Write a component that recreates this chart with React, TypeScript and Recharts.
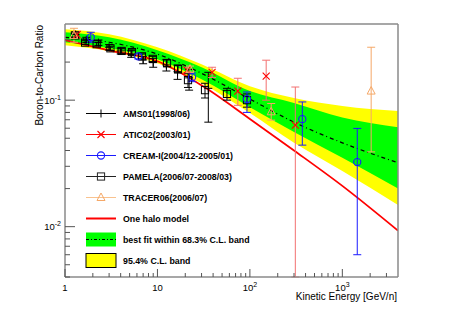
import React from "react";
import { ComposedChart, Area, Line, Scatter, XAxis, YAxis, ErrorBar, ReferenceLine } from "recharts";

// model curves, sampled at these kinetic energies (GeV/n)
const bandEnergy = [1, 3, 10, 30, 100, 300, 1000, 4000];
const yellowHigh = [0.363, 0.332, 0.262, 0.192, 0.129, 0.104, 0.09, 0.082];
const greenHigh = [0.344, 0.314, 0.248, 0.182, 0.118, 0.095, 0.073, 0.061];
const bestFit = [0.314, 0.287, 0.231, 0.163, 0.102, 0.067, 0.046, 0.032];
const greenLow = [0.287, 0.257, 0.211, 0.146, 0.088, 0.056, 0.035, 0.02];
const yellowLow = [0.272, 0.244, 0.196, 0.136, 0.079, 0.046, 0.0275, 0.0148];
const haloModel = [0.298, 0.248, 0.203, 0.131, 0.071, 0.04, 0.021, 0.0093];

// measurements: e = energy, r = B/C, lo / hi = error below / above
const ams01 = [
  { e: 1.3, r: 0.33, lo: 0.015, hi: 0.015 },
  { e: 1.7, r: 0.3, lo: 0.014, hi: 0.014 },
  { e: 2.3, r: 0.285, lo: 0.014, hi: 0.014 },
  { e: 3.0, r: 0.262, lo: 0.013, hi: 0.013 },
  { e: 4.0, r: 0.245, lo: 0.013, hi: 0.013 },
  { e: 5.2, r: 0.232, lo: 0.014, hi: 0.014 },
  { e: 7.0, r: 0.208, lo: 0.014, hi: 0.014 },
  { e: 9.0, r: 0.198, lo: 0.016, hi: 0.016 },
  { e: 12.5, r: 0.19, lo: 0.02, hi: 0.02 },
  { e: 16.5, r: 0.168, lo: 0.022, hi: 0.022 },
  { e: 22, r: 0.15, lo: 0.03, hi: 0.025 },
  { e: 35.5, r: 0.124, lo: 0.057, hi: 0.042 },
];
const atic02 = [
  { e: 1.35, r: 0.33, lo: 0.02, hi: 0.02 },
  { e: 20.9, r: 0.173, lo: 0.008, hi: 0.008 },
  { e: 39, r: 0.166, lo: 0.015, hi: 0.016 },
  { e: 74, r: 0.118, lo: 0.027, hi: 0.031 },
  { e: 150, r: 0.155, lo: 0.055, hi: 0.052 },
  { e: 310, r: 0.0635, lo: 0.0595, hi: 0.0635 },
];
const creamI = [
  { e: 1.9, r: 0.314, lo: 0.027, hi: 0.03 },
  { e: 6.2, r: 0.222, lo: 0.01, hi: 0.01 },
  { e: 23.7, r: 0.152, lo: 0.012, hi: 0.012 },
  { e: 93, r: 0.102, lo: 0.022, hi: 0.014 },
  { e: 369, r: 0.0708, lo: 0.0267, hi: 0.026 },
  { e: 1450, r: 0.0324, lo: 0.0264, hi: 0.0274 },
];
const pamela = [
  { e: 1.28, r: 0.325, lo: 0.01, hi: 0.01 },
  { e: 1.65, r: 0.285, lo: 0.01, hi: 0.01 },
  { e: 2.2, r: 0.277, lo: 0.01, hi: 0.01 },
  { e: 3.1, r: 0.257, lo: 0.01, hi: 0.01 },
  { e: 4.1, r: 0.245, lo: 0.01, hi: 0.01 },
  { e: 5.3, r: 0.24, lo: 0.01, hi: 0.01 },
  { e: 6.8, r: 0.222, lo: 0.01, hi: 0.01 },
  { e: 8.9, r: 0.212, lo: 0.01, hi: 0.01 },
  { e: 12.7, r: 0.196, lo: 0.012, hi: 0.012 },
  { e: 16.7, r: 0.176, lo: 0.012, hi: 0.012 },
  { e: 21.4, r: 0.144, lo: 0.018, hi: 0.018 },
  { e: 32.7, r: 0.12, lo: 0.016, hi: 0.016 },
  { e: 56.5, r: 0.112, lo: 0.012, hi: 0.012 },
  { e: 93, r: 0.1, lo: 0.012, hi: 0.012 },
];
const tracer06 = [
  { e: 1.25, r: 0.325, lo: 0.038, hi: 0.045 },
  { e: 22.5, r: 0.176, lo: 0.01, hi: 0.01 },
  { e: 170, r: 0.0809, lo: 0.0114, hi: 0.0132 },
  { e: 2050, r: 0.118, lo: 0.079, hi: 0.144 },
];

const xTicks = [1, 2, 3, 4, 5, 6, 7, 8, 9, 10, 20, 30, 40, 50, 60, 70, 80, 90, 100, 200, 300, 400, 500, 600, 700, 800, 900, 1000, 2000, 3000];
const yTicks = [0.004, 0.005, 0.006, 0.007, 0.008, 0.009, 0.01, 0.02, 0.03, 0.04, 0.05, 0.06, 0.07, 0.08, 0.09, 0.1, 0.2, 0.3];

const FONT = "'Liberation Sans', Arial, Helvetica, sans-serif";
const AXIS = "#8a8a8a";
const TICK = "#555";
const ATIC_RED = "#ff0000";
const ATIC_BAR = "#f27070";
const CREAM_BLUE = "#1a1aff";
const TRACER_ORANGE = "#f5a868";

const bandData = bandEnergy.map((e, i) => ({
  e,
  yellow: [yellowLow[i], yellowHigh[i]],
  green: [greenLow[i], greenHigh[i]],
  fit: bestFit[i],
  halo: haloModel[i],
}));

const withErr = (rows: { e: number; r: number; lo: number; hi: number }[]) =>
  rows.map((d) => ({ e: d.e, r: d.r, err: [d.lo, d.hi] }));

const isMajor = (v: number) => Math.abs(Math.log10(v) - Math.round(Math.log10(v))) < 1e-6;

function XTick(props: any) {
  const { x, y, payload } = props;
  const v = payload.value;
  const major = isMajor(v);
  const exp = Math.round(Math.log10(v));
  return (
    <g>
      <line x1={x} x2={x} y1={y} y2={y - (major ? 8 : 4)} stroke={TICK} strokeWidth={1} />
      {major && (
        <text x={x} y={y + 13.5} textAnchor="middle" fontSize={9.5} fontFamily={FONT} fill="#000">
          {exp === 0 ? "1" : "10"}
          {exp >= 2 && (
            <tspan dy={-4} fontSize={7}>
              {exp}
            </tspan>
          )}
        </text>
      )}
    </g>
  );
}

function YTick(props: any) {
  const { x, y, payload } = props;
  const v = payload.value;
  const major = isMajor(v);
  const exp = Math.round(Math.log10(v));
  return (
    <g>
      <line x1={x} x2={x + (major ? 10 : 5)} y1={y} y2={y} stroke={TICK} strokeWidth={1} />
      {major && (
        <text x={x - 4} y={y + 3.5} textAnchor="end" fontSize={9.5} fontFamily={FONT} fill="#000">
          10
          <tspan dy={-4} fontSize={7}>
            {exp}
          </tspan>
        </text>
      )}
    </g>
  );
}

// marker shapes
const plus = (cx: number, cy: number, c: string) => (
  <path d={`M${cx - 4},${cy}h8M${cx},${cy - 4}v8`} stroke={c} strokeWidth={1} fill="none" />
);
const cross = (cx: number, cy: number, c: string) => (
  <path d={`M${cx - 3.5},${cy - 3.5}l7,7M${cx - 3.5},${cy + 3.5}l7,-7`} stroke={c} strokeWidth={1.1} fill="none" />
);
const circle = (cx: number, cy: number, c: string) => (
  <circle cx={cx} cy={cy} r={3.6} stroke={c} strokeWidth={1.1} fill="none" />
);
const square = (cx: number, cy: number, c: string) => (
  <rect x={cx - 3.6} y={cy - 3.6} width={7.2} height={7.2} stroke={c} strokeWidth={1} fill="none" />
);
const triangle = (cx: number, cy: number, c: string) => (
  <path d={`M${cx},${cy - 4.5}L${cx + 4},${cy + 3}L${cx - 4},${cy + 3}Z`} stroke={c} strokeWidth={1} fill="none" />
);

const shapeOf = (fn: (cx: number, cy: number, c: string) => React.ReactElement, c: string) => (p: any) =>
  fn(p.cx, p.cy, c);

function LegendOverlay() {
  const rows: { label: string; color: string; mark?: (cx: number, cy: number, c: string) => React.ReactElement; width?: number }[] = [
    { label: "AMS01(1998/06)", color: "#000", mark: plus },
    { label: "ATIC02(2003/01)", color: ATIC_RED, mark: cross },
    { label: "CREAM-I(2004/12-2005/01)", color: CREAM_BLUE, mark: circle },
    { label: "PAMELA(2006/07-2008/03)", color: "#222", mark: square },
    { label: "TRACER06(2006/07)", color: "#f9c28e", mark: triangle },
    { label: "One halo model", color: "#ff0000", width: 2 },
  ];
  const y0 = 113.5;
  const step = 21;
  return (
    <svg width={463} height={315} style={{ position: "absolute", left: 0, top: 0, pointerEvents: "none" }}>
      {rows.map((r, i) => {
        const y = y0 + i * step;
        return (
          <g key={r.label}>
            <line x1={86} x2={116} y1={y} y2={y} stroke={r.color} strokeWidth={r.width ?? 1} />
            {r.mark && r.mark(101, y, i === 4 ? TRACER_ORANGE : r.color)}
            <text x={123} y={y + 3.3} fontSize={8.8} fontWeight="bold" fontFamily={FONT} fill="#000">
              {r.label}
            </text>
          </g>
        );
      })}
      <rect x={86} y={y0 + 6 * step - 7} width={30} height={14} fill="#00ff00" />
      <line x1={86} x2={116} y1={y0 + 6 * step} y2={y0 + 6 * step} stroke="#000" strokeDasharray="3 2 1 2" />
      <text x={123} y={y0 + 6 * step + 3.3} fontSize={8.8} fontWeight="bold" fontFamily={FONT} fill="#000">
        best fit within 68.3% C.L. band
      </text>
      <rect x={86} y={y0 + 7 * step - 7} width={30} height={14} fill="#ffff00" stroke="#000" strokeWidth={1} />
      <text x={123} y={y0 + 7 * step + 3.3} fontSize={8.8} fontWeight="bold" fontFamily={FONT} fill="#000">
        95.4% C.L. band
      </text>
      <text x={397} y={300} textAnchor="end" fontSize={10} fontFamily={FONT} fill="#000">
        Kinetic Energy [GeV/n]
      </text>
      <text x={42.5} y={25} textAnchor="end" transform="rotate(-90 42.5 25)" fontSize={10} fontFamily={FONT} fill="#000">
        Boron-to-Carbon Ratio
      </text>
    </svg>
  );
}

export default function App() {
  return (
    <div style={{ position: "absolute", left: 0, top: 0, width: 463, height: 315, background: "#fff" }}>
      <ComposedChart width={463} height={315} margin={{ top: 24, right: 65, bottom: 0, left: 0 }}>
        <XAxis
          type="number"
          dataKey="e"
          scale="log"
          domain={[1, 4000]}
          allowDataOverflow
          ticks={xTicks}
          interval={0}
          tickSize={0}
          tickMargin={0}
          tickLine={false}
          tick={(p: any) => <XTick {...p} />}
          height={38}
          axisLine={{ stroke: AXIS, strokeWidth: 1.5 }}
        />
        <YAxis
          type="number"
          dataKey="r"
          scale="log"
          domain={[0.004, 0.4]}
          allowDataOverflow
          ticks={yTicks}
          interval={0}
          tickSize={0}
          tickMargin={0}
          tickLine={false}
          tick={(p: any) => <YTick {...p} />}
          width={65}
          axisLine={{ stroke: AXIS, strokeWidth: 1.5 }}
        />
        <Area data={bandData} dataKey="yellow" type="monotone" fill="#ffff00" fillOpacity={1} stroke="none" isAnimationActive={false} />
        <Area data={bandData} dataKey="green" type="monotone" fill="#00ff00" fillOpacity={1} stroke="none" isAnimationActive={false} />
        <Line data={bandData} dataKey="fit" type="monotone" stroke="#000" strokeWidth={1.2} strokeDasharray="4 3 1 3" dot={false} isAnimationActive={false} />
        <Line data={bandData} dataKey="halo" type="monotone" stroke="#ff0000" strokeWidth={1.8} dot={false} isAnimationActive={false} />
        <ReferenceLine y={0.4} stroke={AXIS} strokeWidth={1.5} />
        <ReferenceLine x={4000} stroke={AXIS} strokeWidth={1.5} />
        <Scatter data={withErr(ams01)} shape={shapeOf(plus, "#000")} isAnimationActive={false}>
          <ErrorBar dataKey="err" direction="y" width={4} stroke="#000" strokeWidth={1} />
        </Scatter>
        <Scatter data={withErr(pamela)} shape={shapeOf(square, "#000")} isAnimationActive={false}>
          <ErrorBar dataKey="err" direction="y" width={4} stroke="#000" strokeWidth={1} />
        </Scatter>
        <Scatter data={withErr(atic02)} shape={shapeOf(cross, ATIC_RED)} isAnimationActive={false}>
          <ErrorBar dataKey="err" direction="y" width={4} stroke={ATIC_BAR} strokeWidth={1} />
        </Scatter>
        <Scatter data={withErr(creamI)} shape={shapeOf(circle, CREAM_BLUE)} isAnimationActive={false}>
          <ErrorBar dataKey="err" direction="y" width={4} stroke={CREAM_BLUE} strokeWidth={1} />
        </Scatter>
        <Scatter data={withErr(tracer06)} shape={shapeOf(triangle, TRACER_ORANGE)} isAnimationActive={false}>
          <ErrorBar dataKey="err" direction="y" width={4} stroke={TRACER_ORANGE} strokeWidth={1} />
        </Scatter>
      </ComposedChart>
      <LegendOverlay />
    </div>
  );
}
